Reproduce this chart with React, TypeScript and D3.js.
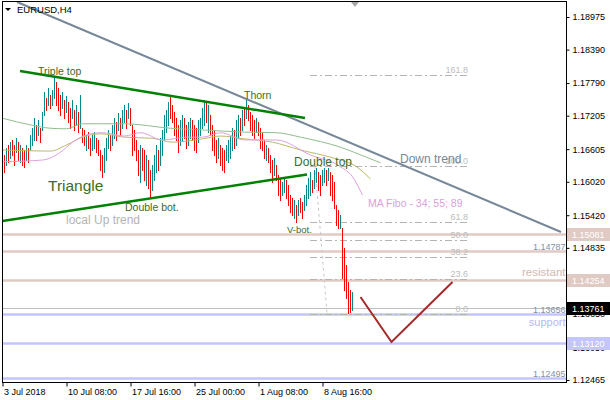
import { useEffect, useRef } from 'react'
import * as d3 from 'd3'

const W = 610
const H = 400
const PLOT = { left: 2.5, top: 1.5, right: 566.5, bottom: 382.5 }
const FONT = '"Liberation Sans", Arial, sans-serif'

// H4 bars, index 0 = 3 Jul 2018 00:00
const barHigh = [
  1.1659, 1.1650, 1.1663, 1.1668, 1.1673, 1.1677, 1.1668, 1.1681, 1.1673, 1.1668,
  1.1663, 1.1659, 1.1668, 1.1663, 1.1686, 1.1698, 1.1716, 1.1704, 1.1713, 1.1698,
  1.1727, 1.1763, 1.1752, 1.1770, 1.1758, 1.1767, 1.1790, 1.1781, 1.1770, 1.1758,
  1.1763, 1.1749, 1.1756, 1.1745, 1.1734, 1.1749, 1.1731, 1.1740, 1.1727, 1.1758,
  1.1698, 1.1695, 1.1686, 1.1691, 1.1681, 1.1686, 1.1691, 1.1681, 1.1677, 1.1659,
  1.1650, 1.1663, 1.1681, 1.1695, 1.1686, 1.1704, 1.1716, 1.1709, 1.1725, 1.1716,
  1.1731, 1.1740, 1.1731, 1.1743, 1.1734, 1.1704, 1.1695, 1.1677, 1.1659, 1.1668,
  1.1663, 1.1659, 1.1650, 1.1641, 1.1623, 1.1632, 1.1650, 1.1668, 1.1659, 1.1681,
  1.1695, 1.1722, 1.1731, 1.1745, 1.1756, 1.1740, 1.1727, 1.1716, 1.1704, 1.1713,
  1.1722, 1.1716, 1.1704, 1.1709, 1.1716, 1.1713, 1.1704, 1.1698, 1.1713, 1.1716,
  1.1734, 1.1749, 1.1745, 1.1740, 1.1722, 1.1704, 1.1695, 1.1677, 1.1681, 1.1668,
  1.1663, 1.1659, 1.1668, 1.1677, 1.1686, 1.1698, 1.1695, 1.1713, 1.1722, 1.1716,
  1.1731, 1.1734, 1.1749, 1.1740, 1.1727, 1.1722, 1.1713, 1.1716, 1.1709, 1.1698,
  1.1691, 1.1677, 1.1668, 1.1663, 1.1650, 1.1641, 1.1645, 1.1632, 1.1614, 1.1609,
  1.1602, 1.1609, 1.1605, 1.1596, 1.1579, 1.1573, 1.1569, 1.1560, 1.1569, 1.1573,
  1.1566, 1.1579, 1.1596, 1.1609, 1.1620, 1.1605, 1.1623, 1.1627, 1.1620, 1.1614,
  1.1623, 1.1627, 1.1623, 1.1627, 1.1620, 1.1614, 1.1602, 1.1560, 1.1551, 1.1542,
  1.1519, 1.1483, 1.1453, 1.1422, 1.1408, 1.1404,
]
const barLow = [
  1.1627, 1.1620, 1.1632, 1.1637, 1.1645, 1.1650, 1.1632, 1.1655, 1.1641, 1.1637,
  1.1632, 1.1628, 1.1641, 1.1637, 1.1659, 1.1668, 1.1677, 1.1677, 1.1686, 1.1673,
  1.1695, 1.1722, 1.1731, 1.1740, 1.1734, 1.1740, 1.1752, 1.1740, 1.1731, 1.1722,
  1.1734, 1.1716, 1.1727, 1.1709, 1.1698, 1.1716, 1.1695, 1.1704, 1.1691, 1.1698,
  1.1673, 1.1668, 1.1659, 1.1663, 1.1650, 1.1659, 1.1663, 1.1655, 1.1650, 1.1623,
  1.1611, 1.1620, 1.1641, 1.1663, 1.1659, 1.1668, 1.1681, 1.1677, 1.1695, 1.1686,
  1.1698, 1.1709, 1.1698, 1.1716, 1.1704, 1.1650, 1.1659, 1.1641, 1.1614, 1.1602,
  1.1623, 1.1605, 1.1596, 1.1591, 1.1575, 1.1587, 1.1605, 1.1620, 1.1623, 1.1632,
  1.1650, 1.1677, 1.1691, 1.1704, 1.1716, 1.1709, 1.1686, 1.1677, 1.1655, 1.1668,
  1.1677, 1.1681, 1.1663, 1.1668, 1.1681, 1.1677, 1.1659, 1.1655, 1.1673, 1.1686,
  1.1698, 1.1704, 1.1709, 1.1691, 1.1686, 1.1659, 1.1650, 1.1637, 1.1645, 1.1632,
  1.1623, 1.1620, 1.1641, 1.1637, 1.1645, 1.1659, 1.1663, 1.1668, 1.1681, 1.1686,
  1.1695, 1.1704, 1.1716, 1.1713, 1.1695, 1.1686, 1.1681, 1.1691, 1.1686, 1.1663,
  1.1659, 1.1645, 1.1641, 1.1637, 1.1620, 1.1602, 1.1614, 1.1605, 1.1579, 1.1569,
  1.1579, 1.1584, 1.1573, 1.1560, 1.1548, 1.1542, 1.1537, 1.1530, 1.1542, 1.1548,
  1.1537, 1.1551, 1.1560, 1.1573, 1.1579, 1.1584, 1.1591, 1.1602, 1.1587, 1.1579,
  1.1596, 1.1602, 1.1596, 1.1605, 1.1579, 1.1569, 1.1555, 1.1524, 1.1519, 1.1519,
  1.1430, 1.1408, 1.1394, 1.1367, 1.1369, 1.1372,
]
// u = bull bar, d = bear bar
const barDir = [
  'ududu', 'ddudu', 'ddudu', 'uudud', 'uudud', 'uuddd', 'ududd', 'ududu',
  'ddudd', 'uuddd', 'duuud', 'uudud', 'uudud', 'ddddu', 'ddudd', 'uuudu',
  'uuuud', 'ddddu', 'udduu', 'ddduu', 'uudud', 'dddud', 'dduuu', 'uduud',
  'ududd', 'ddudd', 'ddudd', 'duddd', 'uuddd', 'dudud', 'duuuu', 'duudd',
  'uudud', 'ddddu', 'ddddd', 'u',
].join('')

// moving averages (bar index, price)
const maFast: [number, number][] = [
  [0, 1.1638], [20, 1.1641], [29, 1.1655], [35, 1.1673], [42, 1.1686], [50, 1.1690],
  [61, 1.1684], [69, 1.1690], [80, 1.1677], [92, 1.1682], [100, 1.1682], [109, 1.1690],
  [121, 1.1677], [137, 1.1677], [154, 1.1650], [169, 1.1629], [175, 1.1611], [180, 1.1578],
]
const maMid: [number, number][] = [
  [0, 1.1659], [24, 1.1657], [32, 1.1668], [40, 1.1682], [49, 1.1688], [61, 1.1682],
  [75, 1.1680], [85, 1.1673], [100, 1.1679], [109, 1.1684], [121, 1.1679], [135, 1.1673],
  [149, 1.1659], [165, 1.1645], [177, 1.1629], [184, 1.1607],
]
const maSlow: [number, number][] = [
  [0, 1.1716], [14, 1.1704], [24, 1.1698], [32, 1.1697], [40, 1.1706], [49, 1.1706],
  [61, 1.1706], [84, 1.1698], [100, 1.1695], [121, 1.1691], [137, 1.1690], [149, 1.1682],
  [169, 1.1664], [182, 1.1646], [189, 1.1636],
]

// drawn objects (bar index, price)
const downTrend: [number, number][] = [[7.25, 1.19244], [279.25, 1.15119]]
const triangleTop: [number, number][] = [[8.75, 1.18007], [151.25, 1.17164]]
const triangleBottom: [number, number][] = [[0, 1.15317], [152.25, 1.16151]]
const forecast: [number, number][] = [[179, 1.13954], [194.5, 1.13147], [225, 1.14223]]

const fiboHigh = 1.16303
const fiboLow = 1.13656
const fiboLevels = [0, 23.6, 38.2, 50, 61.8, 100, 161.8]
const fiboSpan = [153.75, 232.75]
const fiboAnchor: [number, number][] = [[156.25, fiboHigh], [162.25, fiboLow]]

const resistLines = [1.15081, 1.14787, 1.14254]
const supportLines = [1.13656, 1.1312, 1.12495]
const scaleTagged = [1.15081, 1.14254, 1.1312]
const lastPrice = 1.13761

const priceTicks = [1.18975, 1.1839, 1.1779, 1.17205, 1.16605, 1.1602, 1.1542, 1.14835, 1.1425, 1.1365, 1.1305, 1.12465]
const timeTicks = [0, 32, 64, 96, 128, 160]
const timeLabels = ['3 Jul 2018', '10 Jul 08:00', '17 Jul 16:00', '25 Jul 00:00', '1 Aug 08:00', '8 Aug 16:00']

const UP = '#008B8B'
const DOWN = '#FF0000'
const RESIST = '#E0CAC4'
const SUPPORT = '#C4C4FF'
const NOTE = '#3D6B1F'

export default function App() {
  const svgRef = useRef<SVGSVGElement>(null)

  useEffect(() => {
    const svg = d3.select(svgRef.current!)
    svg.selectAll('*').remove()

    const x = d3.scaleLinear([0, 282], [PLOT.left, PLOT.right])
    const y = d3.scaleLinear([1.12465, 1.18975], [380, 17])
    const fmt5 = d3.format('.5f')

    svg.append('rect').attr('width', W).attr('height', H).attr('fill', '#fff')

    svg.append('clipPath').attr('id', 'plot-clip')
      .append('rect')
      .attr('x', PLOT.left).attr('y', PLOT.top)
      .attr('width', PLOT.right - PLOT.left).attr('height', PLOT.bottom - PLOT.top)

    const g = svg.append('g').attr('clip-path', 'url(#plot-clip)')

    // ── horizontal levels ─────────────────────────────────────────────
    const hline = (p: number, color: string, w: number) =>
      g.append('line')
        .attr('x1', PLOT.left).attr('x2', PLOT.right)
        .attr('y1', Math.round(y(p)) + 0.5).attr('y2', Math.round(y(p)) + 0.5)
        .attr('stroke', color).attr('stroke-width', w)

    resistLines.forEach(p => hline(p, RESIST, 2.5))
    supportLines.forEach(p => hline(p, SUPPORT, 2.5))
    hline(lastPrice, '#C0C0C0', 1)

    // descriptions above lines not tagged on the price scale
    ;[...resistLines, ...supportLines].filter(p => !scaleTagged.includes(p)).forEach(p => {
      g.append('text')
        .attr('x', PLOT.right - 1).attr('y', Math.round(y(p)) - 1.5)
        .attr('text-anchor', 'end').attr('font-family', FONT).attr('font-size', 9)
        .attr('fill', '#8590A4').text(fmt5(p))
    })

    g.append('text')
      .attr('x', PLOT.right - 1).attr('y', y(1.14254) - 4.5)
      .attr('text-anchor', 'end').attr('font-family', FONT).attr('font-size', 11.5)
      .attr('fill', '#D2B8B0').text('resistant')
    g.append('text')
      .attr('x', PLOT.right - 1).attr('y', y(1.13656) + 12)
      .attr('text-anchor', 'end').attr('font-family', FONT).attr('font-size', 11)
      .attr('fill', '#B8B8F4').text('support')

    // ── fibonacci ─────────────────────────────────────────────────────
    fiboLevels.forEach(lv => {
      const py = Math.round(y(fiboLow + (fiboHigh - fiboLow) * lv / 100)) + 0.5
      g.append('line')
        .attr('x1', x(fiboSpan[0])).attr('x2', x(fiboSpan[1]))
        .attr('y1', py).attr('y2', py)
        .attr('stroke', '#B4B4B4').attr('stroke-width', 1).attr('stroke-dasharray', '7,3,2,3')
      g.append('text')
        .attr('x', x(fiboSpan[1])).attr('y', py - 3)
        .attr('text-anchor', 'end').attr('font-family', FONT).attr('font-size', 9)
        .attr('fill', '#BDBDBD').text(d3.format('.1f')(lv))
    })

    const line = d3.line<[number, number]>().x(d => x(d[0])).y(d => y(d[1]))

    g.append('path').datum(fiboAnchor).attr('d', line)
      .attr('fill', 'none').attr('stroke', '#C8C8C8').attr('stroke-dasharray', '3,3')

    // ── bars ──────────────────────────────────────────────────────────
    barHigh.forEach((hi, i) => {
      g.append('line')
        .attr('x1', x(i)).attr('x2', x(i))
        .attr('y1', Math.round(y(hi))).attr('y2', Math.round(y(barLow[i])) + 1)
        .attr('stroke', barDir[i] === 'u' ? UP : DOWN).attr('stroke-width', 1)
    })

    // ── moving averages ───────────────────────────────────────────────
    const smooth = d3.line<[number, number]>().x(d => x(d[0])).y(d => y(d[1])).curve(d3.curveMonotoneX)
    ;[[maSlow, '#8FBC8F'], [maMid, '#BDB76B'], [maFast, '#DDA0DD']].forEach(([pts, c]) => {
      g.append('path').datum(pts as [number, number][]).attr('d', smooth)
        .attr('fill', 'none').attr('stroke', c as string).attr('stroke-width', 1)
    })

    // ── trend lines ───────────────────────────────────────────────────
    g.append('path').datum(downTrend).attr('d', line)
      .attr('fill', 'none').attr('stroke', '#778899').attr('stroke-width', 2)
    ;[triangleTop, triangleBottom].forEach(pts => {
      g.append('path').datum(pts).attr('d', line)
        .attr('fill', 'none').attr('stroke', '#008000').attr('stroke-width', 2.5)
    })
    g.append('path').datum(forecast).attr('d', line)
      .attr('fill', 'none').attr('stroke', '#A52A2A').attr('stroke-width', 2)

    // ── annotations ───────────────────────────────────────────────────
    const note = (t: string, i: number, p: number, size: number, color: string) =>
      g.append('text').attr('x', x(i)).attr('y', y(p))
        .attr('font-family', FONT).attr('font-size', size).attr('fill', color).text(t)

    note('Triple top', 17.75, 1.17935, 10.5, NOTE)
    note('Thorn', 120.75, 1.17505, 10.5, NOTE)
    note('Triangle', 22.75, 1.15855, 15.5, NOTE)
    note('Double bot.', 61.25, 1.15496, 10.5, NOTE)
    note('local Up trend', 31.75, 1.15263, 12, '#B4B4B4')
    note('Double top', 145.75, 1.16303, 12, NOTE)
    note('V-bot.', 142.25, 1.15101, 9.5, NOTE)
    note('MA Fibo - 34; 55; 89', 182.75, 1.15568, 10.5, '#DDA0DD')
    note('Down trend', 198.75, 1.16357, 12, '#778899')

    // ── frame & axes ──────────────────────────────────────────────────
    svg.append('rect')
      .attr('x', PLOT.left).attr('y', PLOT.top)
      .attr('width', PLOT.right - PLOT.left).attr('height', PLOT.bottom - PLOT.top)
      .attr('fill', 'none').attr('stroke', '#000').attr('stroke-width', 1)

    svg.append('g')
      .attr('transform', `translate(${PLOT.right},0)`)
      .call(d3.axisRight(y).tickValues(priceTicks).tickFormat(d => fmt5(d as number)).tickSize(3).tickPadding(3))
      .call(ag => ag.select('.domain').remove())
      .call(ag => ag.selectAll('.tick line').attr('stroke', '#000'))
      .call(ag => ag.selectAll('text').attr('font-family', FONT).attr('font-size', 9).attr('fill', '#000'))

    svg.append('g')
      .attr('transform', `translate(0,${PLOT.bottom})`)
      .call(d3.axisBottom(x).tickValues(timeTicks).tickFormat((_, i) => timeLabels[i]).tickSize(4).tickPadding(2))
      .call(ag => ag.select('.domain').remove())
      .call(ag => ag.selectAll('.tick line').attr('stroke', '#000'))
      .call(ag => ag.selectAll('text').attr('text-anchor', 'start').attr('dx', 1)
        .attr('font-family', FONT).attr('font-size', 9).attr('fill', '#000'))

    const tag = (p: number, bg: string) => {
      const py = y(p)
      svg.append('rect').attr('x', PLOT.right + 0.5).attr('y', Math.round(py) - 6)
        .attr('width', W - PLOT.right).attr('height', 13).attr('fill', bg)
      svg.append('text').attr('x', 572).attr('y', Math.round(py) + 4)
        .attr('font-family', FONT).attr('font-size', 9).attr('fill', '#fff').text(fmt5(p))
    }
    tag(1.15081, RESIST)
    tag(1.14254, RESIST)
    tag(1.1312, SUPPORT)
    tag(lastPrice, '#000')

    // chart shift marker
    const sx = Math.round(x(176))
    svg.append('path').attr('d', `M${sx - 4},2L${sx + 4},2L${sx},7Z`).attr('fill', '#A8A8A8')

    // title
    svg.append('path').attr('d', 'M5,8L11,8L8,11Z').attr('fill', '#000')
    svg.append('text').attr('x', 17).attr('y', 13)
      .attr('font-family', FONT).attr('font-size', 9.5).attr('fill', '#000').text('EURUSD,H4')
  }, [])

  return (
    <svg ref={svgRef} width={W} height={H}
      style={{ position: 'absolute', left: 0, top: 0, display: 'block' }} />
  )
}
